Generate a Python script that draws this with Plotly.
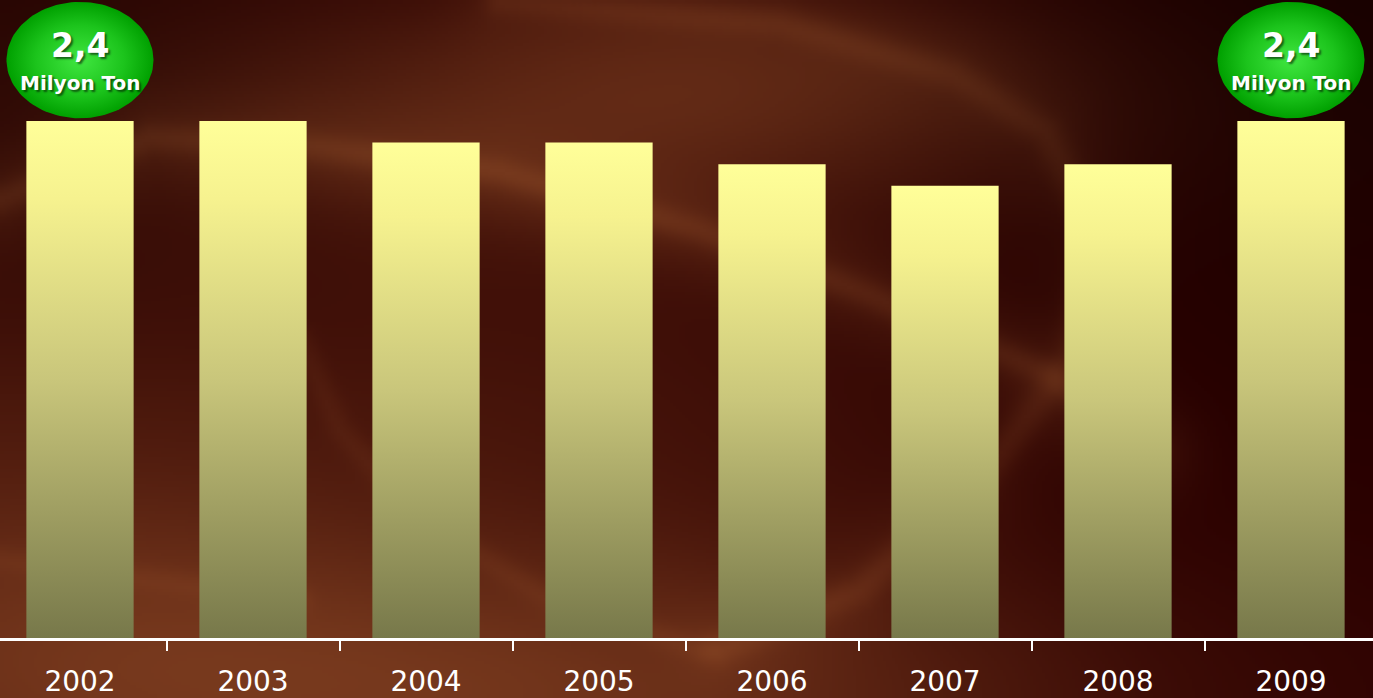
import numpy as np
import zlib, struct, base64
import plotly.graph_objects as go

# ---------------- data ----------------
years = ["2002", "2003", "2004", "2005", "2006", "2007", "2008", "2009"]
values = [2.4, 2.4, 2.3, 2.3, 2.2, 2.1, 2.2, 2.4]
badge_value = "2,4"
badge_unit = "Milyon Ton"
badge_years = ["2002", "2009"]

W, H = 1373, 698

# ---------------- decorative background (procedural PNG) ----------------
def make_background():
    w, h = 458, 233
    X = (np.arange(w) + 0.5) * W / w
    Y = (np.arange(h) + 0.5) * H / h
    X, Y = np.meshgrid(X, Y)

    def blob(cx, cy, sx, sy, amp):
        return amp * np.exp(-(((X - cx) ** 2) / (2 * sx ** 2) + ((Y - cy) ** 2) / (2 * sy ** 2)))

    def streak(pts, s, amp):
        pts = np.array(pts, float)
        seg = []
        for a, b in zip(pts[:-1], pts[1:]):
            t = np.linspace(0, 1, 40, endpoint=False)[:, None]
            seg.append(a + (b - a) * t)
        seg.append(pts[-1:])
        seg = np.vstack(seg)
        d2 = np.full(X.shape, 1e12)
        for px, py in seg:
            d2 = np.minimum(d2, (X - px) ** 2 + (Y - py) ** 2)
        return amp * np.exp(-d2 / (2 * s ** 2))

    a = 0.28 * np.clip(1 - X / 1150.0, 0, 1) * np.clip(Y / 400.0, 0.3, 1)
    a += blob(620, 110, 360, 85, 0.55)
    a += blob(800, 60, 200, 60, 0.15)
    a += blob(560, 700, 400, 110, 0.62)
    a += blob(60, 620, 260, 140, 0.35)
    a += blob(620, 400, 300, 160, 0.14)
    A = [(0, 200), (150, 138), (300, 145), (500, 172), (700, 230), (870, 295),
         (1050, 375), (1150, 450)]
    a += streak(A, 35, 0.20)
    a += streak(A, 11, 0.22)
    B = [(500, 0), (780, 23), (955, 75), (1046, 132), (1095, 230), (1070, 360),
         (980, 480), (860, 590), (720, 650)]
    a += streak(B, 12, 0.2)
    a += streak(B, 35, 0.10)
    C = [(300, 340), (340, 430), (420, 520), (550, 600), (700, 650)]
    a += streak(C, 10, 0.12)
    D = [(0, 560), (150, 580), (300, 600)]
    a += streak(D, 10, 0.10)
    a = np.clip(a, 0, 1)

    maroon = np.array([44, 0, 0], float)
    brown = np.array([126, 62, 32], float)
    img = maroon + a[..., None] * (brown - maroon)
    dark = 1 - 0.45 * np.exp(-(((X - 1373) ** 2) / (2 * 300 ** 2) + (Y ** 2) / (2 * 260 ** 2)))
    dark *= 1 - 0.25 * np.exp(-((X ** 2) / (2 * 250 ** 2) + (Y ** 2) / (2 * 200 ** 2)))
    img *= dark[..., None]

    img = np.clip(img, 0, 255).astype(np.uint8)
    raw = b"".join(b"\x00" + img[r].tobytes() for r in range(h))

    def chunk(t, d):
        return struct.pack(">I", len(d)) + t + d + struct.pack(">I", zlib.crc32(t + d) & 0xFFFFFFFF)

    png = (b"\x89PNG\r\n\x1a\n" + chunk(b"IHDR", struct.pack(">IIBBBBB", w, h, 8, 2, 0, 0, 0))
           + chunk(b"IDAT", zlib.compress(raw, 9)) + chunk(b"IEND", b""))
    return "data:image/png;base64," + base64.b64encode(png).decode()


fig = go.Figure()

# ---------------- bars (gradient-filled rectangles on the data axes) ----------------
bar_w = 0.62
bar_scale = [[0, "#77784a"], [0.5, "#c9c67b"], [0.85, "#f6f28f"], [1, "#ffff99"]]
for i, (yr, v) in enumerate(zip(years, values)):
    x0, x1 = i - bar_w / 2, i + bar_w / 2
    fig.add_trace(go.Scatter(
        x=[x0, x1, x1, x0, x0], y=[0, 0, v, v, 0],
        mode="lines", fill="toself", line=dict(width=0, color="rgba(0,0,0,0)"),
        fillgradient=dict(type="vertical", colorscale=bar_scale),
        name=yr, hoverinfo="skip", showlegend=False,
    ))

# ---------------- green badges ----------------
t = np.linspace(0, 2 * np.pi, 120)
rx, ry = 0.425, 0.27
badge_offset = 0.283
for yr in badge_years:
    i = years.index(yr)
    v = values[i]
    cy = v + badge_offset
    fig.add_trace(go.Scatter(
        x=i + rx * np.cos(t), y=cy + ry * np.sin(t),
        mode="lines", fill="toself", line=dict(width=0, color="rgba(0,0,0,0)"),
        fillgradient=dict(type="radial",
                          colorscale=[[0, "#40e640"], [0.6, "#1cc41c"], [1, "#00a000"]]),
        hoverinfo="skip", showlegend=False,
    ))
    fig.add_annotation(x=i, y=cy + 0.07, text="<b>" + badge_value + "</b>", showarrow=False,
                       font=dict(family="DejaVu Sans", size=33, color="white",
                                 shadow="2px 2px 2px rgba(0,0,0,0.55)"))
    fig.add_annotation(x=i, y=cy - 0.105, text="<b>" + badge_unit + "</b>", showarrow=False,
                       font=dict(family="DejaVu Sans", size=20, color="white",
                                 shadow="2px 2px 2px rgba(0,0,0,0.55)"))

fig.update_layout(
    width=W, height=H,
    margin=dict(l=0, r=0, t=0, b=60),
    paper_bgcolor="#2a0400",
    plot_bgcolor="rgba(0,0,0,0)",
    images=[dict(source=make_background(), xref="paper", yref="paper", x=0, y=1,
                 sizex=1, sizey=H / (H - 60), xanchor="left", yanchor="top",
                 sizing="stretch", layer="below")],
    xaxis=dict(
        range=[-0.4624, 7.474], tickmode="array", tickvals=list(range(len(years))),
        ticktext=years, ticks="", showline=True, linecolor="white", linewidth=3,
        showgrid=False, zeroline=False, ticklabelstandoff=16, automargin=False,
        tickfont=dict(family="DejaVu Sans", size=28, color="white"),
        minor=dict(tickmode="array", tickvals=[i + 0.5 for i in range(len(years) - 1)],
                   ticks="outside", ticklen=10, tickwidth=2, tickcolor="white", showgrid=False),
        fixedrange=True,
    ),
    yaxis=dict(range=[0, 2.962], visible=False, fixedrange=True, automargin=False),
    showlegend=False,
)

fig.write_html("out.html", config={"displayModeBar": False},
               post_script="document.body.style.margin='0';document.body.style.overflow='hidden';")
